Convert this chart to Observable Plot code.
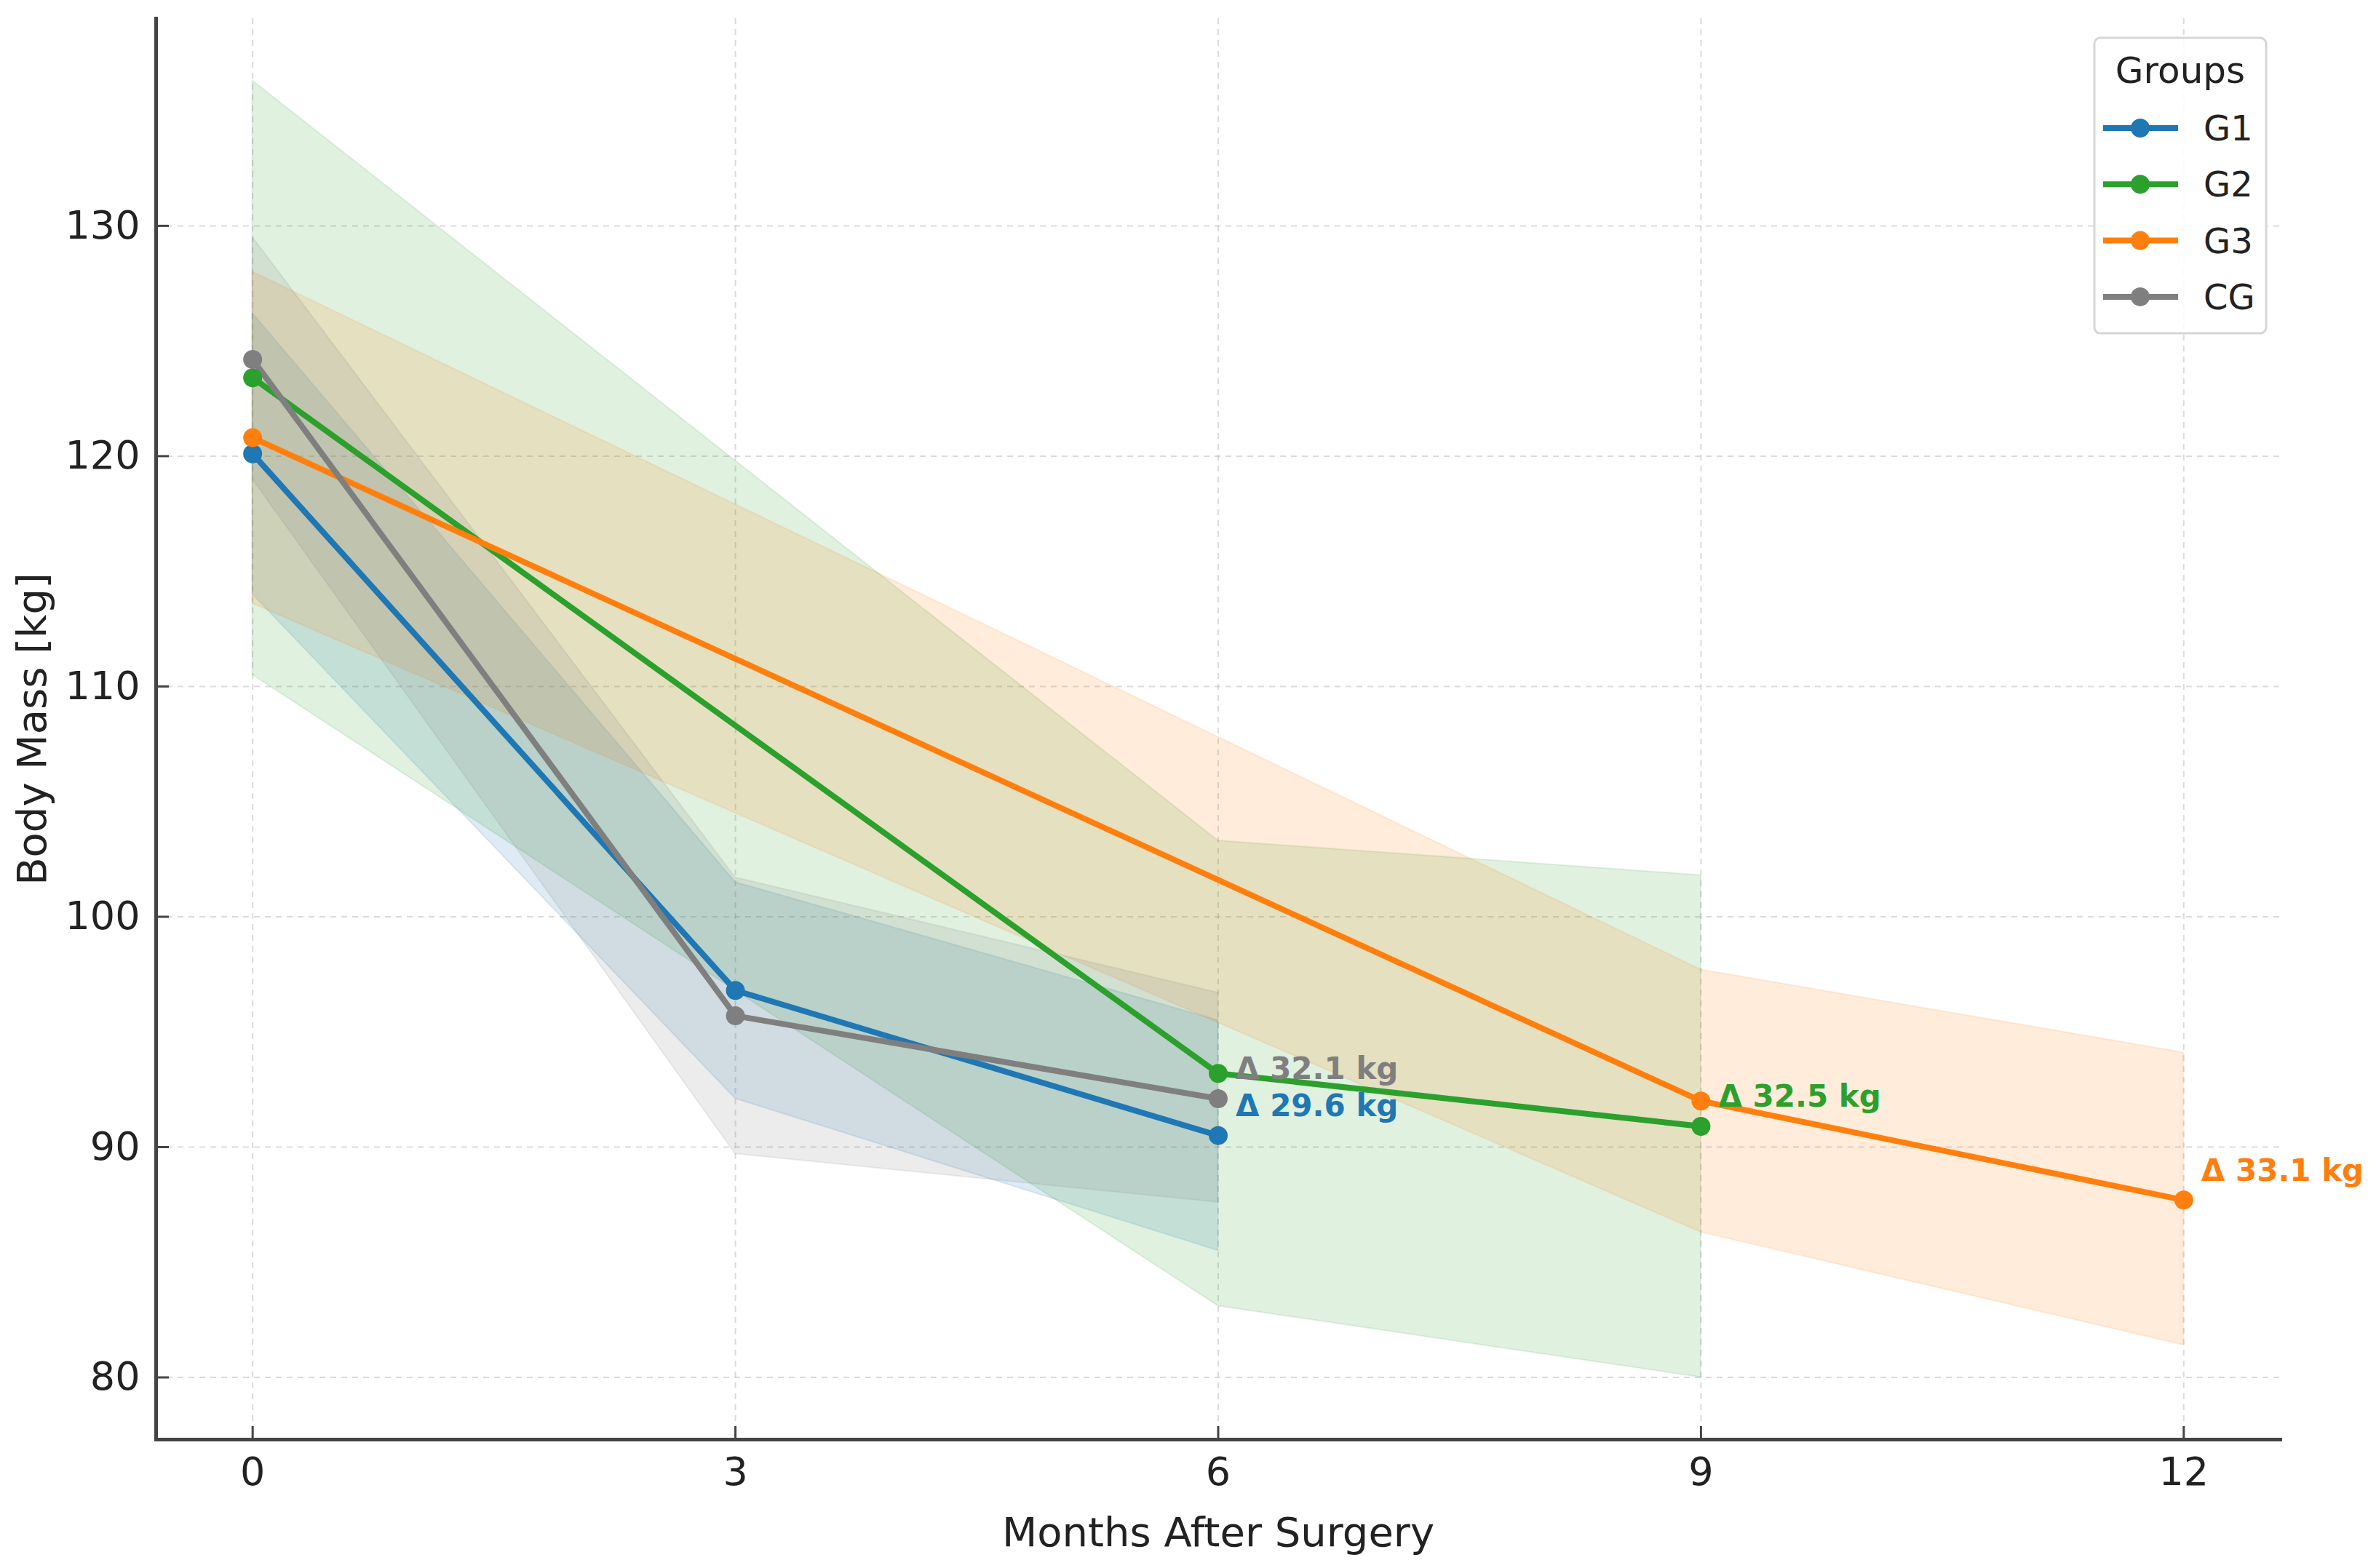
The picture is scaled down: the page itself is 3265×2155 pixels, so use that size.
<!DOCTYPE html>
<html>
<head>
<meta charset="utf-8">
<script src="https://cdn.jsdelivr.net/npm/d3@7"></script>
<script src="https://cdn.jsdelivr.net/npm/@observablehq/plot@0.6"></script>
<style>
  html, body { margin: 0; padding: 0; background: #fff; }
  #wrap { position: relative; width: 3265px; height: 2155px; }
  #legend { position: absolute; left: 0; top: 0; }
</style>
</head>
<body>
<div id="wrap"></div>
<script>
// ---- data ----
const groups = ["G1", "G2", "G3", "CG"];
const groupColors = ["#1f77b4", "#2ca02c", "#ff7f0e", "#7f7f7f"];

const g1Months = [0, 3, 6];
const g1Mean = [120.1, 96.8, 90.5];
const g1Lo = [114.0, 92.1, 85.5];
const g1Hi = [126.2, 101.5, 95.5];

const g2Months = [0, 6, 9];
const g2Mean = [123.4, 93.2, 90.9];
const g2Lo = [110.5, 83.1, 80.0];
const g2Hi = [136.3, 103.3, 101.8];

const g3Months = [0, 9, 12];
const g3Mean = [120.8, 92.0, 87.7];
const g3Lo = [113.6, 86.3, 81.4];
const g3Hi = [128.0, 97.7, 94.1];

const cgMonths = [0, 3, 6];
const cgMean = [124.2, 95.7, 92.1];
const cgLo = [119.0, 89.7, 87.6];
const cgHi = [129.5, 101.7, 96.7];

const deltaLabels = ["Δ 29.6 kg", "Δ 32.5 kg", "Δ 33.1 kg", "Δ 32.1 kg"];

const xTicks = [0, 3, 6, 9, 12];
const yTicks = [80, 90, 100, 110, 120, 130];
const xDomain = [-0.6, 12.6];
const yDomain = [77.3, 139.0];

const xLabel = "Months After Surgery";
const yLabel = "Body Mass [kg]";
const legendTitle = "Groups";

// ---- build table ----
const series = [
  [g1Months, g1Mean, g1Lo, g1Hi],
  [g2Months, g2Mean, g2Lo, g2Hi],
  [g3Months, g3Mean, g3Lo, g3Hi],
  [cgMonths, cgMean, cgLo, cgHi]
];
const rows = [];
const lastRows = [];
series.forEach(([m, mean, lo, hi], gi) => {
  m.forEach((month, i) => {
    rows.push({group: groups[gi], month, mean: mean[i], lo: lo[i], hi: hi[i]});
  });
  const k = m.length - 1;
  lastRows.push({group: groups[gi], month: m[k], mean: mean[k], label: deltaLabels[gi]});
});

const font = "DejaVu Sans, Verdana, sans-serif";

const chart = Plot.plot({
  width: 3265,
  height: 2155,
  marginLeft: 214,
  marginRight: 132,
  marginTop: 25,
  marginBottom: 177,
  style: {fontFamily: font, fontSize: "52px", color: "#222", background: "#fff"},
  x: {domain: xDomain},
  y: {domain: yDomain},
  color: {domain: groups, range: groupColors},
  marks: [
    Plot.gridX(xTicks, {stroke: "#b0b0b0", strokeOpacity: 0.45, strokeWidth: 2, strokeDasharray: "8,7"}),
    Plot.gridY(yTicks, {stroke: "#b0b0b0", strokeOpacity: 0.45, strokeWidth: 2, strokeDasharray: "8,7"}),
    Plot.areaY(rows, {x: "month", y1: "lo", y2: "hi", z: "group", fill: "group", fillOpacity: 0.15, stroke: "group", strokeOpacity: 0.12, strokeWidth: 2, curve: "linear"}),
    Plot.line(rows, {x: "month", y: "mean", z: "group", stroke: "group", strokeWidth: 8}),
    Plot.dot(rows, {x: "month", y: "mean", fill: "group", r: 13}),
    Plot.text(lastRows, {x: "month", y: "mean", text: "label", fill: "group", dx: 24, dy: -40, textAnchor: "start", lineAnchor: "middle", fontWeight: "bold", fontSize: 42}),
    Plot.axisX(xTicks, {tickSize: -18, tickPadding: 42, tickFormat: d => String(d), label: null, stroke: "#444", fill: "#222", fontSize: 54, strokeWidth: 3}),
    Plot.axisY(yTicks, {tickSize: -18, tickPadding: 40, tickFormat: d => String(d), label: null, stroke: "#444", fill: "#222", fontSize: 54, strokeWidth: 3}),
    Plot.frame({anchor: "left", stroke: "#444", strokeWidth: 5}),
    Plot.frame({anchor: "bottom", stroke: "#444", strokeWidth: 5}),
    Plot.text([xLabel], {frameAnchor: "bottom", dy: 129, lineAnchor: "middle", fontSize: 56, fill: "#222"}),
    Plot.text([yLabel], {frameAnchor: "left", dx: -169, rotate: -90, lineAnchor: "middle", textAnchor: "middle", fontSize: 56, fill: "#222"})
  ]
});

const wrap = document.getElementById("wrap");
wrap.appendChild(chart);

// ---- legend overlay ----
const lg = d3.create("svg")
  .attr("id", "legend")
  .attr("width", 3265)
  .attr("height", 2155)
  .style("pointer-events", "none")
  .style("font-family", font);

const box = {x: 2878, y: 52, w: 236, h: 406};
lg.append("rect")
  .attr("x", box.x).attr("y", box.y).attr("width", box.w).attr("height", box.h)
  .attr("rx", 8).attr("ry", 8)
  .attr("fill", "#fff").attr("fill-opacity", 0.85)
  .attr("stroke", "#d6d6d6").attr("stroke-width", 3);

lg.append("text")
  .attr("x", box.x + box.w / 2).attr("y", 97)
  .attr("text-anchor", "middle").attr("dominant-baseline", "central")
  .attr("font-size", 50).attr("fill", "#222")
  .text(legendTitle);

groups.forEach((g, i) => {
  const cy = 176 + i * 77.3;
  lg.append("line")
    .attr("x1", 2890).attr("x2", 2993).attr("y1", cy).attr("y2", cy)
    .attr("stroke", groupColors[i]).attr("stroke-width", 8);
  lg.append("circle")
    .attr("cx", 2941).attr("cy", cy).attr("r", 13)
    .attr("fill", groupColors[i]);
  lg.append("text")
    .attr("x", 3028).attr("y", cy)
    .attr("dominant-baseline", "central")
    .attr("font-size", 48).attr("fill", "#222")
    .text(g);
});

wrap.appendChild(lg.node());
</script>
</body>
</html>
